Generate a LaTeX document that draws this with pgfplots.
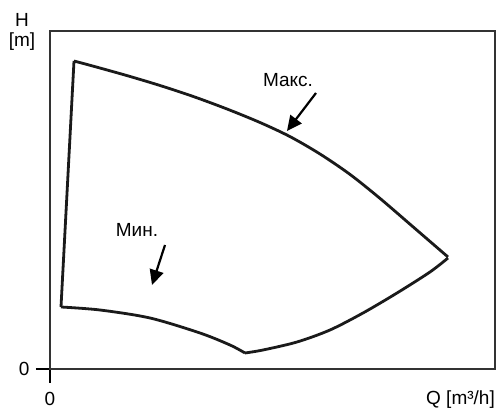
\documentclass[border=0pt]{standalone}
\usepackage{fontspec}
\setmainfont{Liberation Sans}
\usepackage{pgfplots}
\pgfplotsset{compat=1.18}
\usetikzlibrary{arrows.meta}
\definecolor{Curve}{HTML}{1A1A1A}
\definecolor{Frame}{HTML}{333333}

% operating field, one table per boundary segment
\pgfplotstableread{
x y
24 308
43 302.9
77 293.4
110 283.5
143 272.6
177 260
210 246.5
240 232.4
270 215
300 194.6
330 170.6
363 142.2
398 112
}\maxcurve
\pgfplotstableread{
x y
398 111
380 97
347 76
313 56
280 39
247 27
213 19
195 16
}\rightcurve
\pgfplotstableread{
x y
195 16
180 24
150 36
100 51
50 59
11 62
}\mincurve
\pgfplotstableread{
x y
11 62
24 308
}\leftedge

\begin{document}
\begin{tikzpicture}[font=\fontsize{19}{20}\selectfont]
\begin{axis}[
  width=445pt, height=338pt, scale only axis,
  xmin=0, xmax=445, ymin=0, ymax=338,
  xtick={0}, ytick={0},
  xtick pos=left, ytick pos=left,
  tick align=outside, major tick length=14pt,
  tick style={black, line width=1.6pt},
  axis line style={draw=Frame, line width=1.6pt},
  /pgf/number format/assume math mode=true,
  ticklabel style={font=\fontsize{19}{20}\selectfont},
  xticklabel style={yshift=-6pt},
  yticklabel style={xshift=-3pt},
  clip=false,
]
\addplot[Curve, line width=2.8pt, smooth, tension=0.5] table {\maxcurve};
\addplot[Curve, line width=2.8pt, smooth, tension=0.5] table {\rightcurve};
\addplot[Curve, line width=2.8pt, smooth, tension=0.5] table {\mincurve};
\addplot[Curve, line width=2.8pt] table {\leftedge};

\draw[line width=2.2pt, -{Triangle[length=15pt,width=14pt]}] (axis cs:266,276) -- (axis cs:237,238);
\draw[line width=2.2pt, -{Triangle[length=15pt,width=14pt]}] (axis cs:115,124) -- (axis cs:102,84);
\node at (axis cs:238,289) {Макс.};
\node at (axis cs:87,139) {Мин.};

\node[align=center, inner sep=0pt] at (axis description cs:0,1) [xshift=-28pt, yshift=-1pt] {H\\{}[m]};
\node[anchor=east, inner sep=0pt] at (axis description cs:1,0) [yshift=-31pt] {Q [m³/h]};
\end{axis}
\pgfresetboundingbox
\path[use as bounding box] (-50pt,-40pt) rectangle (446pt,369pt);
\end{tikzpicture}
\end{document}
